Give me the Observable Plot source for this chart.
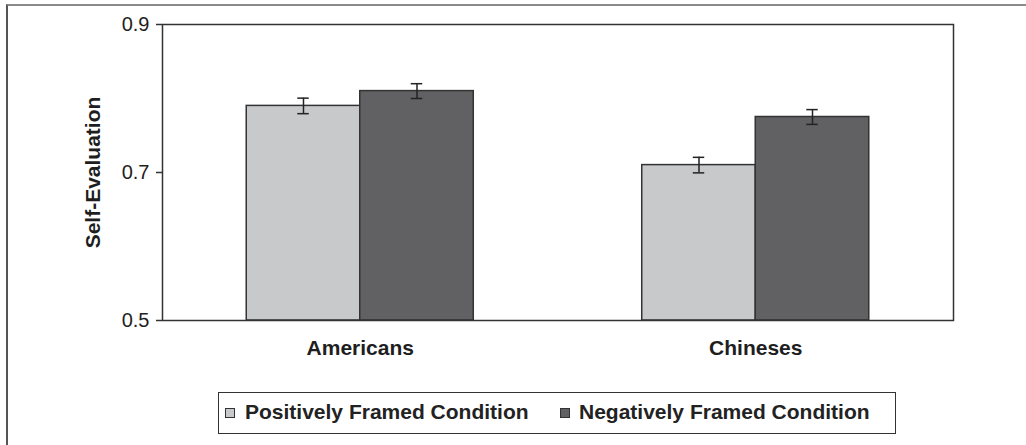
<!DOCTYPE html>
<html>
<head>
<meta charset="utf-8">
<script src="https://cdn.jsdelivr.net/npm/d3@7"></script>
<script src="https://cdn.jsdelivr.net/npm/@observablehq/plot@0.6"></script>
<style>
  html, body { margin: 0; padding: 0; background: #fff; }
  #wrap { position: relative; width: 1026px; height: 445px; overflow: hidden; font-family: "Liberation Sans", Arial, sans-serif; }
  #outer { position: absolute; left: 6px; top: 4px; width: 1100px; height: 500px; border-top: 2px solid #8a8a8a; border-left: 2px solid #555; box-sizing: border-box; }
  #legend { position: absolute; left: 218px; top: 392px; width: 678px; height: 42px; border: 1.5px solid #333; box-sizing: border-box; }
  .sw { position: absolute; top: 15px; width: 8px; height: 8px; border: 1px solid #333; }
  .lt { position: absolute; top: 7px; font-weight: bold; font-size: 21px; color: #222; line-height: 24px; white-space: nowrap; }
</style>
</head>
<body>
<div id="wrap">
  <div id="outer"></div>
  <div id="chart"></div>
  <div id="legend"></div>
</div>
<script>
// ---- data ----
const categories = ["Americans", "Chineses"];
const conditions = ["Positively Framed Condition", "Negatively Framed Condition"];
const positiveValues = [0.79, 0.71];
const negativeValues = [0.81, 0.775];
const positiveErrors = [0.0105, 0.0105];
const negativeErrors = [0.0100, 0.0100];
const yTicks = [0.5, 0.7, 0.9];
const yLabel = "Self-Evaluation";
const colors = ["#c8c9cb", "#616163"];

// ---- layout constants ----
const barW = 0.287;   // bar width in group units
const capW = 0.0145;  // half width of error-bar caps
const labelX = -0.5 - 69 / 395.5; // y-axis title position (group units)

const rows = [];
categories.forEach((c, i) => {
  rows.push({cat: c, gi: i, condition: conditions[0], value: positiveValues[i], err: positiveErrors[i], x1: i - barW, x2: i, xc: i - barW / 2});
  rows.push({cat: c, gi: i, condition: conditions[1], value: negativeValues[i], err: negativeErrors[i], x1: i, x2: i + barW, xc: i + barW / 2});
});

const chart = Plot.plot({
  width: 1026,
  height: 445,
  marginLeft: 162,
  marginRight: 73,
  marginTop: 24,
  marginBottom: 125,
  style: {fontFamily: "'Liberation Sans', Arial, sans-serif", fontSize: "20px", color: "#1e1e1e", background: "transparent", overflow: "visible"},
  x: {type: "linear", domain: [-0.5, categories.length - 0.5], axis: null},
  y: {domain: [0.5, 0.9], axis: null},
  color: {domain: conditions, range: colors},
  marks: [
    Plot.rectY(rows, {x1: "x1", x2: "x2", y1: 0.5, y2: "value", fill: "condition", stroke: "#333", strokeWidth: 1.5}),
    Plot.ruleX(rows, {x: "xc", y1: d => d.value - d.err, y2: d => d.value + d.err, stroke: "#222", strokeWidth: 1.5}),
    Plot.ruleY(rows, {y: d => d.value - d.err, x1: d => d.xc - capW, x2: d => d.xc + capW, stroke: "#222", strokeWidth: 1.5}),
    Plot.ruleY(rows, {y: d => d.value + d.err, x1: d => d.xc - capW, x2: d => d.xc + capW, stroke: "#222", strokeWidth: 1.5}),
    Plot.frame({stroke: "#333", strokeWidth: 1.5}),
    Plot.axisY({ticks: yTicks, tickFormat: d3.format(".1f"), tickSize: 6, tickPadding: 7, fontSize: 20, label: null, stroke: "#333", strokeWidth: 1.5}),
    Plot.axisX({ticks: categories.map((c, i) => i), tickFormat: i => categories[i], tickSize: 0, tickPadding: 20, fontSize: 21, fontWeight: "bold", label: null}),
    Plot.text([yLabel], {text: d => d, x: () => labelX, y: () => 0.7, rotate: -90, fontSize: 21, fontWeight: "bold", fill: "#1e1e1e"})
  ]
});
document.getElementById("chart").appendChild(chart);

// ---- legend ----
const legend = document.getElementById("legend");
const swX = [6, 341];
const txX = [26, 360];
conditions.forEach((c, i) => {
  const sw = document.createElement("div");
  sw.className = "sw";
  sw.style.left = swX[i] + "px";
  sw.style.background = colors[i];
  legend.appendChild(sw);
  const t = document.createElement("div");
  t.className = "lt";
  t.style.left = txX[i] + "px";
  t.textContent = c;
  legend.appendChild(t);
});
</script>
</body>
</html>
